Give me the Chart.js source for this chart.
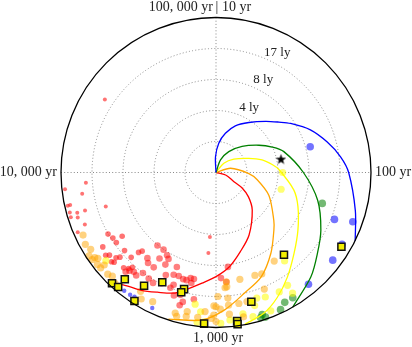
<!DOCTYPE html>
<html>
<head>
<meta charset="utf-8">
<script src="https://cdn.jsdelivr.net/npm/chart.js@4.4.0/dist/chart.umd.min.js"></script>
<style>
  html, body { margin: 0; padding: 0; background: #fff; }
</style>
</head>
<body>
<canvas id="polarChart" width="412" height="347"></canvas>
<script>
// time is kept as log10(years): 1 = 10 yr at the top, one decade per quarter turn, clockwise
// distance is kept in ring units (ring 2 = 4 ly, ring 3 = 8 ly, ring 4 = 17 ly, rim = 5)
const timeTicks = [1, 2, 3, 4];
const timeLabels = ["10 yr", "100 yr", "1, 000 yr", "10, 000 yr"];
const wrapLabel = "100, 000 yr";
const ringTicks = [1, 2, 3, 4];
const ringLabels = ["", "4 ly", "8 ly", "17 ly"];
const outerRing = 5;

// spirals
const blueT = [0.98, 0.98, 1.06, 1.15, 1.25, 1.37, 1.49, 1.57, 1.63, 1.73, 1.83, 1.92, 2.00, 2.17, 2.29];
const blueR = [0, 0.51, 0.95, 1.30, 1.63, 1.93, 2.30, 2.60, 2.88, 3.34, 3.72, 4.05, 4.28, 4.66, 5.0];
const greenT = [1.20, 1.22, 1.35, 1.50, 1.64, 1.73, 1.81, 2.00, 2.17, 2.32, 2.43, 2.53, 2.67];
const greenR = [0, 0.43, 0.79, 1.19, 1.64, 1.99, 2.29, 2.82, 3.40, 3.86, 4.19, 4.55, 5.0];
const yellowT = [1.40, 1.45, 1.59, 1.74, 1.83, 1.91, 1.97, 2.14, 2.25, 2.39, 2.51, 2.62, 2.71, 2.79, 2.88];
const yellowR = [0, 0.39, 0.72, 1.15, 1.54, 1.83, 2.03, 2.57, 2.86, 3.23, 3.62, 4.09, 4.49, 4.79, 4.98];
const orangeT = [1.78, 1.82, 2.02, 2.11, 2.26, 2.44, 2.50, 2.62, 2.74, 2.85, 2.96, 3.06, 3.20];
const orangeR = [0, 0.49, 1.06, 1.35, 1.86, 2.42, 2.64, 3.15, 3.67, 3.99, 4.44, 4.78, 4.97];
const redT = [2.08, 2.16, 2.30, 2.34, 2.41, 2.51, 2.69, 2.81, 2.91, 3.00, 3.08, 3.15, 3.21, 3.29, 3.36, 3.44, 3.48];
const redR = [0, 0.32, 0.65, 0.98, 1.31, 1.68, 2.28, 2.67, 3.07, 3.36, 3.60, 3.86, 4.11, 4.30, 4.50, 4.70, 4.95];

// dots: [log10 yr, ring]
const redSmall = [[3.95,4.21],[3.93,4.9],[3.90,4.37],[3.86,4.82],[3.86,4.9],[3.82,4.4],[3.81,3.72],
  [3.83,4.89],[3.82,4.66],[3.81,4.9],[3.80,4.69],[3.76,4.55],[3.74,4.86],[4.37,4.29],[3.06,2.09],[3.06,2.61]];
const redMid = [[3.67,4.01],[3.64,3.94],[3.62,3.66],[3.61,3.93],[3.63,4.37],[3.55,3.88],[3.49,3.59],
  [3.48,3.48],[3.59,4.45],[3.58,4.35],[3.55,4.24],[3.54,4.13],[3.55,4.43],[3.54,4.38],[3.50,3.87],
  [3.49,4.28],[3.47,4.19],[3.46,4.08]];
const redBig = [[3.38,3.01],[3.37,3.32],[3.41,3.65],[3.37,3.66],[3.32,3.39],[3.40,4.01],[3.36,4.05],
  [3.33,4.1],[3.29,3.98],[3.29,3.68],[3.25,3.57],[3.23,3.87],[3.22,3.55],[3.19,3.6],[3.15,3.5],
  [3.18,4.11],[3.16,4.31],[3.11,4.15],[2.97,3.41],[2.94,3.55],[2.92,3.07],[3.13,3.51],[3.14,3.65],
  [3.42,4.2],[3.32,3.18],[3.34,3.1],[3.25,3.3],[3.43,3.02],[3.17,3.6],[3.21,4.19],[3.17,4.44],
  [3.46,4.22],[3.44,4.16],[3.47,4.33],[3.43,3.54],[3.24,4.0]];
const orangeDots = [[2.63,3.42],[2.73,3.59],[2.77,3.55],[2.86,3.53],[2.75,4.07],[2.94,3.7],[2.99,4.0],
  [2.85,4.28],[2.89,4.29],[2.94,4.3],[2.98,4.41],[2.94,4.59],[3.01,4.6],[2.88,4.74],[3.0,4.81],
  [2.94,3.54],[2.95,3.73],[2.94,4.07],[3.01,4.3],[3.05,4.5],[3.02,4.71],[3.72,4.74],[3.68,4.81],
  [3.65,4.74],[3.63,4.9],[3.61,4.78],[3.58,4.84],[3.56,4.83],[3.52,4.79],[3.50,4.73],[3.47,4.84],
  [3.36,4.54],[3.34,4.74],[3.29,4.64],[3.17,4.81],[3.13,4.74],[3.08,4.71],[3.0,4.33],[3.6,4.71],
  [3.56,4.68],[3.61,4.88],[3.18,4.72],[3.13,4.58]];
const yellowDots = [[2.0,2.15],[2.16,2.17],[2.58,3.61],[2.64,4.31],[2.69,4.36],[2.76,4.32],[2.80,4.26],
  [2.82,4.47],[2.76,4.8],[2.64,4.61],[2.84,4.8],[2.88,4.64],[3.10,4.3],[3.08,4.87],[2.98,4.87],
  [2.94,4.78],[3.57,4.55],[3.05,4.83],[3.07,4.52]];
const greenDots = [[2.18,3.57],[2.65,4.74],[2.69,4.74],[2.72,4.89],[2.80,4.82],[2.81,4.9],[2.79,4.93]];
const blueDots = [[1.83,3.15],[2.24,4.11],[2.22,4.69],[2.33,4.68],[2.41,4.71],[2.56,4.68]];
const blueSmall = [[3.42,4.83],[3.39,4.82],[3.37,4.79],[3.28,4.83]];
const squares = [[3.48,4.9],[3.45,4.86],[3.45,4.53],[3.36,4.91],[3.36,4.33],[3.29,3.94],[3.17,3.9],
  [3.18,4.02],[3.05,4.89],[2.91,4.84],[2.91,4.94],[2.83,4.32],[2.56,3.44],[2.34,4.7]];
const star = [[1.87, 2.14]];

// log-time angle -> x/y in ring units
function toXY(lgT, ring) {
  const a = (lgT - 1) * Math.PI / 2;
  return { x: ring * Math.sin(a), y: ring * Math.cos(a) };
}
const curve = (ts, rs) => ts.map((t, i) => toXY(t, rs[i]));
const dots = (list) => list.map(p => toXY(p[0], p[1]));

function spiral(ts, rs, color) {
  return {
    data: curve(ts, rs), showLine: true, tension: 0.3, pointRadius: 0,
    borderColor: color, borderWidth: 1.3, fill: false, order: 1, clip: false,
  };
}
function scatter(list, color, radius, order) {
  return {
    data: dots(list), backgroundColor: color, borderWidth: 0,
    pointRadius: radius, order: order, clip: false,
  };
}

function starImage(size) {
  const c = document.createElement("canvas");
  c.width = c.height = size;
  const g = c.getContext("2d");
  g.beginPath();
  for (let i = 0; i < 10; i++) {
    const rr = i % 2 ? size * 0.2 : size * 0.5;
    const a = -Math.PI / 2 + i * Math.PI / 5;
    const px = size / 2 + rr * Math.cos(a), py = size / 2 + rr * Math.sin(a) + size * 0.05;
    if (i) g.lineTo(px, py); else g.moveTo(px, py);
  }
  g.closePath();
  g.fillStyle = "#000";
  g.fill();
  return c;
}

const polarGrid = {
  id: "polarGrid",
  beforeDatasetsDraw(chart) {
    const { ctx, scales: { x, y } } = chart;
    const cx = x.getPixelForValue(0), cy = y.getPixelForValue(0);
    const unit = x.getPixelForValue(1) - cx;
    const R = outerRing * unit;
    ctx.save();
    ctx.strokeStyle = "#888";
    ctx.lineWidth = 1;
    ctx.setLineDash([1, 2.2]);
    ringTicks.forEach(r => {
      ctx.beginPath();
      ctx.arc(cx, cy, r * unit, 0, 2 * Math.PI);
      ctx.stroke();
    });
    ctx.beginPath();
    ctx.moveTo(cx - R, cy); ctx.lineTo(cx + R, cy);
    ctx.moveTo(cx, cy - R); ctx.lineTo(cx, cy + R);
    ctx.stroke();
    ctx.restore();
  },
  afterDatasetsDraw(chart) {
    const { ctx, scales: { x, y } } = chart;
    const cx = x.getPixelForValue(0), cy = y.getPixelForValue(0);
    const unit = x.getPixelForValue(1) - cx;
    const R = unit * outerRing;
    ctx.save();
    ctx.strokeStyle = "#000";
    ctx.lineWidth = 1.3;
    ctx.beginPath();
    ctx.arc(cx, cy, R, 0, 2 * Math.PI);
    ctx.stroke();

    ctx.fillStyle = "#222";
    ctx.font = "13px 'Liberation Serif', serif";
    ctx.textAlign = "center";
    ctx.textBaseline = "middle";
    const la = 27 * Math.PI / 180;
    ringTicks.forEach((r, i) => {
      if (!ringLabels[i]) return;
      const rr = r * unit + 11;
      ctx.fillText(ringLabels[i], cx + rr * Math.sin(la), cy - rr * Math.cos(la));
    });

    ctx.font = "14px 'Liberation Serif', serif";
    // top: wrap-around label and 10 yr
    ctx.textAlign = "right";
    ctx.fillText(wrapLabel, cx - 3, cy - R - 10);
    ctx.textAlign = "center";
    ctx.fillText("|", cx + 1, cy - R - 10);
    ctx.textAlign = "left";
    ctx.fillText(timeLabels[0], cx + 6, cy - R - 10);
    // right
    ctx.fillText(timeLabels[1], cx + R + 4, cy);
    // bottom
    ctx.textAlign = "center";
    ctx.fillText(timeLabels[2], cx + 2, cy + R + 11);
    // left
    ctx.textAlign = "right";
    ctx.fillText(timeLabels[3], cx - R - 4, cy);
    ctx.restore();
  },
};

const datasets = [
  { data: dots(squares), pointStyle: "rect", pointRadius: 5, backgroundColor: "#f2ee00",
    borderColor: "#111", borderWidth: 1.5, order: 0, clip: false },
  { data: dots(star), pointStyle: starImage(11), order: 0, clip: false },
  spiral(blueT, blueR, "#0000ff"),
  spiral(greenT, greenR, "#008000"),
  spiral(yellowT, yellowR, "#ffff00"),
  spiral(orangeT, orangeR, "#ffa500"),
  spiral(redT, redR, "#ff0000"),
  scatter(redSmall, "rgba(255,0,0,0.55)", 2, 3),
  scatter(redMid, "rgba(255,0,0,0.55)", 2.8, 3),
  scatter(redBig, "rgba(255,0,0,0.5)", 3.3, 3),
  scatter(orangeDots, "rgba(255,165,0,0.5)", 3.6, 2),
  scatter(yellowDots, "rgba(255,255,0,0.55)", 3.6, 2),
  scatter(greenDots, "rgba(0,128,0,0.55)", 3.8, 2),
  scatter(blueDots, "rgba(0,0,255,0.55)", 3.8, 2),
  scatter(blueSmall, "rgba(0,0,255,0.55)", 2.2, 2),
];

new Chart(document.getElementById("polarChart"), {
  type: "scatter",
  data: { datasets: datasets },
  options: {
    responsive: false,
    animation: false,
    devicePixelRatio: 1,
    layout: { padding: { left: 61, right: 41, top: 17.5, bottom: 19.5 } },
    scales: {
      x: { min: -outerRing, max: outerRing, display: false },
      y: { min: -outerRing, max: outerRing, display: false },
    },
    plugins: { legend: { display: false }, tooltip: { enabled: false } },
  },
  plugins: [polarGrid],
});
</script>
</body>
</html>
